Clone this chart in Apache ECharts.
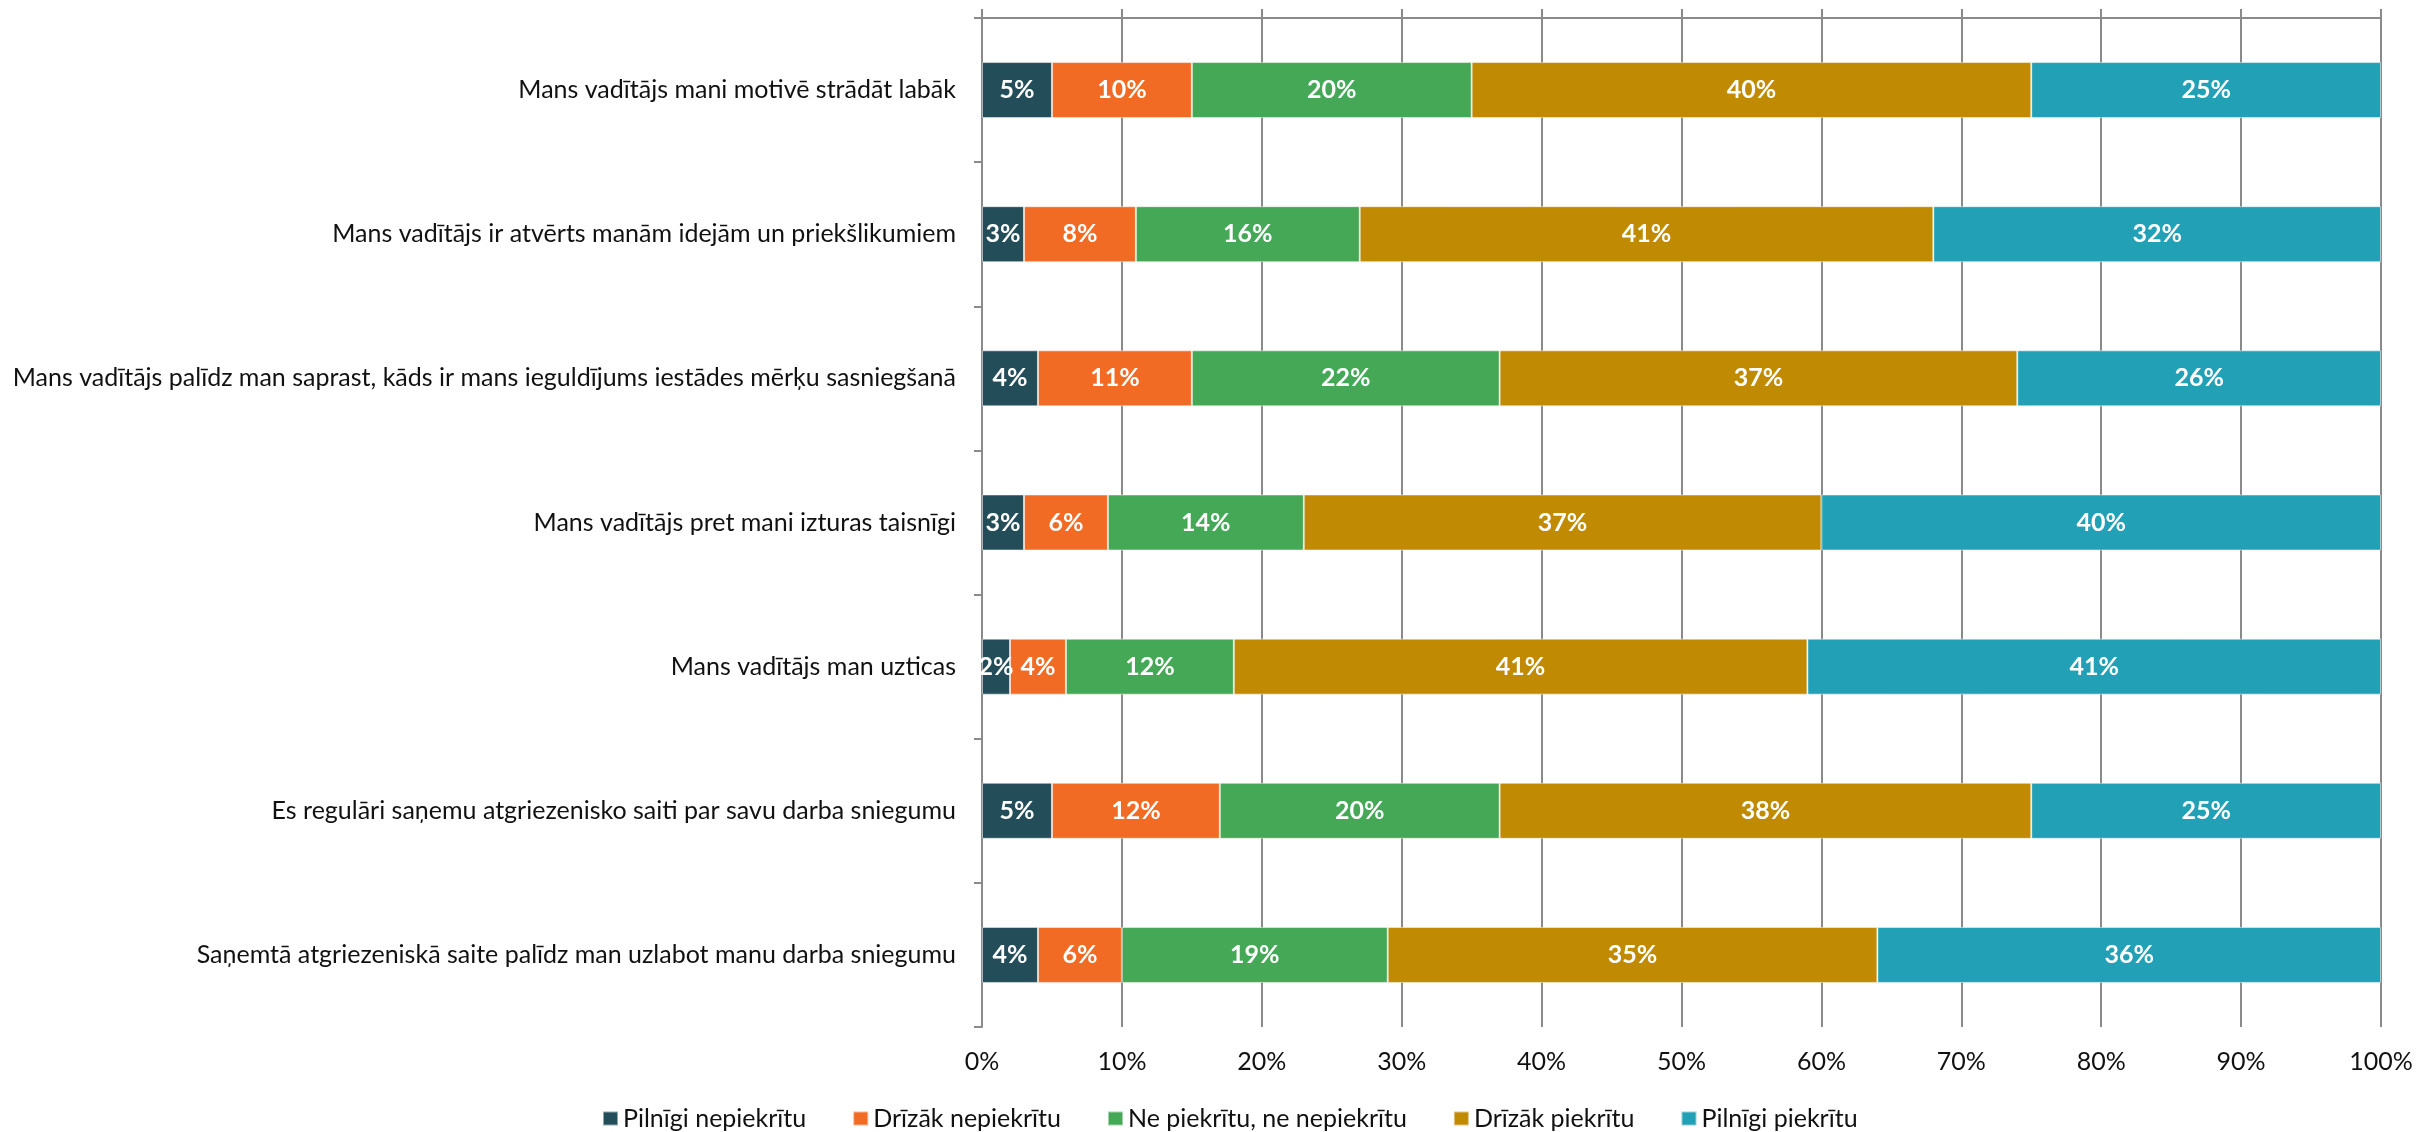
<!DOCTYPE html>
<html>
<head>
<meta charset="utf-8">
<script src="https://cdn.jsdelivr.net/npm/echarts@6/dist/echarts.min.js"></script>
<style>
html,body{margin:0;padding:0;background:#fff;}
#chart{width:2417px;height:1132px;}
</style>
</head>
<body>
<div id="chart"></div>
<script>
const categories = [
  "Mans vadītājs mani motivē strādāt labāk",
  "Mans vadītājs ir atvērts manām idejām un priekšlikumiem",
  "Mans vadītājs palīdz man saprast, kāds ir mans ieguldījums iestādes mērķu sasniegšanā",
  "Mans vadītājs pret mani izturas taisnīgi",
  "Mans vadītājs man uzticas",
  "Es regulāri saņemu atgriezenisko saiti par savu darba sniegumu",
  "Saņemtā atgriezeniskā saite palīdz man uzlabot manu darba sniegumu"
];
const seriesNames = ["Pilnīgi nepiekrītu", "Drīzāk nepiekrītu", "Ne piekrītu, ne nepiekrītu", "Drīzāk piekrītu", "Pilnīgi piekrītu"];
const pilnigiNepiekritu = [5, 3, 4, 3, 2, 5, 4];
const drizakNepiekritu = [10, 8, 11, 6, 4, 12, 6];
const nePiekrituNeNepiekritu = [20, 16, 22, 14, 12, 20, 19];
const drizakPiekritu = [40, 41, 37, 37, 41, 38, 35];
const pilnigiPiekritu = [25, 32, 26, 40, 41, 25, 36];
const xTicks = [0, 10, 20, 30, 40, 50, 60, 70, 80, 90, 100];

const colors = ["#244D5A", "#F26B24", "#44A856", "#C08A03", "#22A1B6"];
const values = [pilnigiNepiekritu, drizakNepiekritu, nePiekrituNeNepiekritu, drizakPiekritu, pilnigiPiekritu];
const FONT = "Lato";
const gridColor = "#8a8a8a";

const chart = echarts.init(document.getElementById('chart'), null, {renderer: 'canvas'});
const series = seriesNames.map((name, i) => ({
  name: name,
  type: 'bar',
  stack: 'total',
  barWidth: 56,
  data: values[i],
  itemStyle: {color: colors[i], borderColor: 'rgba(255,255,255,0.5)', borderWidth: 1},
  label: {
    show: true,
    position: 'inside',
    formatter: '{c}%',
    color: '#fff',
    fontWeight: 'bold',
    fontFamily: FONT,
    fontSize: 25
  },
  emphasis: {disabled: true}
}));

chart.setOption({
  animation: false,
  color: colors,
  grid: {left: 982, right: 36, top: 18, bottom: 105, containLabel: false},
  legend: {
    data: seriesNames,
    left: 597,
    top: 1101,
    icon: 'rect',
    itemWidth: 15,
    itemHeight: 14,
    itemGap: 46,
    textStyle: {fontFamily: FONT, fontSize: 25, color: '#111'}
  },
  xAxis: [
    {
      type: 'value', position: 'top', min: xTicks[0], max: xTicks[xTicks.length - 1], interval: xTicks[1] - xTicks[0],
      axisLine: {show: true, lineStyle: {color: gridColor, width: 2}},
      axisTick: {show: true, inside: false, length: 9, lineStyle: {color: gridColor, width: 2}},
      axisLabel: {show: false},
      splitLine: {show: true, lineStyle: {color: gridColor, width: 2}}
    },
    {
      type: 'value', position: 'bottom', min: xTicks[0], max: xTicks[xTicks.length - 1], interval: xTicks[1] - xTicks[0],
      axisLine: {show: false},
      axisTick: {show: false},
      splitLine: {show: false},
      axisLabel: {show: true, formatter: '{value}%', margin: 22, fontFamily: FONT, fontSize: 25, color: '#111'}
    }
  ],
  yAxis: {
    type: 'category',
    inverse: true,
    data: categories,
    axisLine: {show: true, lineStyle: {color: gridColor, width: 2}},
    axisTick: {show: true, length: 8, lineStyle: {color: gridColor, width: 2}},
    axisLabel: {margin: 26, fontFamily: FONT, fontSize: 25, color: '#111'}
  },
  series: series
});
</script>
</body>
</html>
